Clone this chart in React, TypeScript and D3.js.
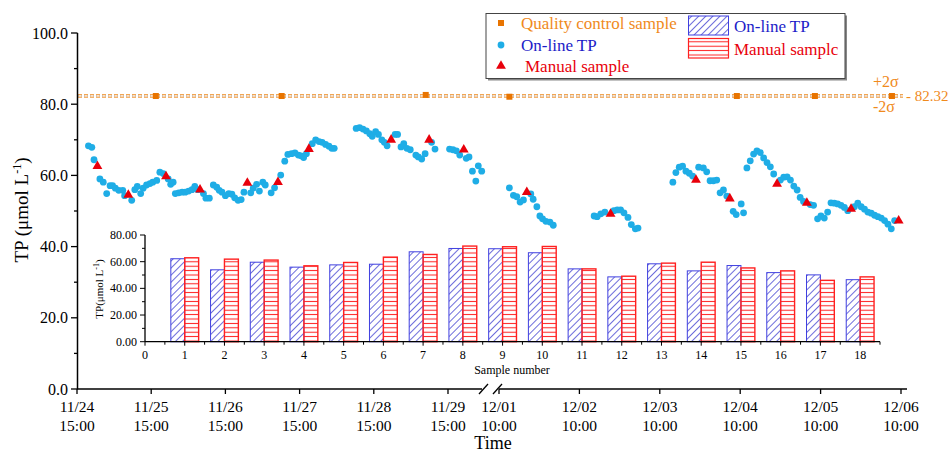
import React from "react";
import * as d3 from "d3";

// ---------- DATA ----------
// time in hours since 11/24 15:00 (axis break between 11/30 and 12/01 10:00)
const onlineHours = [3.7,4.8,5.5,7.4,8.5,9.6,10.7,11.5,12.4,13.5,14.8,15.4,17.7,18.7,19.5,20.6,21.4,22.5,23.6,24.5,25.8,26.8,27.9,29.5,30.3,31.1,31.8,32.9,34.0,35.0,36.1,37.2,38.1,39.1,40.9,41.7,42.8,44.1,45.2,46.0,46.9,48.0,49.1,50.1,51.0,52.1,53.1,54.0,56.2,57.0,58.1,59.0,60.1,60.9,62.8,63.9,65.9,67.2,68.2,69.4,70.5,71.6,72.5,73.3,74.2,76.1,77.2,78.3,79.3,80.4,81.5,82.4,83.2,90.3,91.4,92.5,93.6,94.7,95.5,96.6,97.5,98.6,99.4,100.3,102.9,103.7,104.8,105.7,106.7,107.8,109.6,110.4,111.5,112.6,114.7,115.8,120.5,121.6,122.7,123.8,125.9,126.8,127.9,129.0,129.8,130.9,166.1,167.3,168.3,169.3,170.3,172.5,173.2,174.3,175.2,176.0,177.0,178.2,179.2,191.4,192.3,193.4,194.6,197.3,198.3,199.3,200.3,201.5,202.5,203.7,204.5,214.9,215.8,216.8,217.8,218.8,219.8,220.8,222.6,224.0,225.0,226.0,227.0,228.0,229.0,230.0,231.0,232.9,233.8,235.3,236.0,237.0,238.0,239.0,240.0,241.0,242.0,243.0,244.0,245.0,247.0,248.0,249.0,250.0,251.0,252.0,252.9,253.9,255.9,256.9,258.1,259.1,260.1,261.1,262.1,263.1,264.1,265.1,266.1,267.1,269.1,270.1,271.1,272.1,273.1,274.1,275.1,276.1,277.1,278.1,279.1,280.1,281.1];
const onlineTP = [68.3,67.9,64.4,59.0,58.1,54.9,57.1,57.1,56.4,55.8,55.8,54.3,53.0,56.0,56.9,54.9,56.4,57.3,57.7,58.1,58.6,60.9,60.5,59.0,57.5,58.1,54.9,55.1,55.3,55.3,55.6,56.0,56.9,56.0,54.9,53.6,53.6,57.3,56.7,55.8,55.3,54.3,54.9,54.7,53.7,53.0,53.2,55.3,55.1,56.4,57.5,55.6,58.1,57.3,55.1,56.5,60.1,64.0,65.9,66.1,66.3,65.7,65.5,65.0,66.1,68.9,70.0,69.5,69.3,68.7,68.2,67.6,67.6,73.2,73.4,73.0,72.5,71.7,71.0,72.3,71.5,70.0,69.3,68.3,71.5,71.5,68.0,68.9,67.6,67.2,65.7,65.2,64.6,66.1,69.3,67.4,67.4,67.2,66.9,65.7,64.8,65.2,61.2,58.4,62.7,61.2,56.5,54.4,54.0,52.5,53.1,54.8,53.3,51.2,48.6,47.8,47.1,46.9,46.0,48.6,48.4,49.2,49.7,50.1,50.3,50.3,49.5,48.2,46.2,45.0,45.2,58.1,60.8,62.3,62.6,61.2,60.6,59.8,62.3,62.1,61.0,58.5,58.5,58.7,55.1,55.9,54.2,49.9,49.0,52.0,49.5,62.1,64.1,66.0,66.9,66.4,64.9,63.6,62.4,60.4,58.7,59.5,59.6,58.7,57.0,55.9,53.8,52.7,51.8,51.6,47.8,48.6,48.0,49.7,52.3,52.2,52.0,51.6,51.0,50.1,51.2,52.2,51.2,50.5,49.7,49.4,48.8,48.4,48.0,47.3,46.3,45.0,47.3];

const manualHours = [6.6,16.6,28.8,39.8,55.1,65.0,75.0,101.6,113.9,125.1,171.3,196.3,221.8,231.9,246.0,254.9,268.1,282.3];
const manualTP = [62.6,54.5,59.7,56.0,57.9,58.1,67.4,70.0,70.0,67.2,55.3,49.2,58.7,53.5,57.6,52.3,50.6,47.3];

const qcHours = [25.5,66.2,112.8,166.1,234.0,257.3,280.3];
const qcTP = [82.3,82.3,82.6,82.1,82.3,82.3,82.3];
const qcMean = 82.32;

const sampleNumbers = [1,2,3,4,5,6,7,8,9,10,11,12,13,14,15,16,17,18];
const barOnline = [62.2,53.9,59.6,55.9,57.6,58.1,67.4,69.9,69.7,66.7,54.6,48.6,58.4,53.1,57.1,51.8,50.1,46.5];
const barManual = [62.9,61.9,61.2,56.9,59.4,63.4,65.4,71.7,71.2,71.4,54.6,49.1,58.9,59.6,55.3,53.1,46.0,48.6];

const xTickHours = [0,24,48,72,96,120,163,187,211,235,259,283];
const xTickDates = ["11/24","11/25","11/26","11/27","11/28","11/29","12/01","12/02","12/03","12/04","12/05","12/06"];
const xTickTimes = ["15:00","15:00","15:00","15:00","15:00","15:00","10:00","10:00","10:00","10:00","10:00","10:00"];
const yTicks = [0,20,40,60,80,100];
const yMinor = [10,30,50,70,90];
const insetYTicks = [0,20,40,60,80];
const insetYMinor = [10,30,50,70];
const insetXTicks = [0,1,2,3,4,5,6,7,8,9,10,11,12,13,14,15,16,17,18];

// ---------- STYLE ----------
const F = '"Liberation Serif", "Times New Roman", serif';
const ORANGE = "#f08a1c";
const DOT = "#1fade6";
const RED = "#e8000b";
const BLUE = "#1c1cc8";

export default function App() {
  const W = 949, H = 453;
  // main scales (broken x axis)
  const x = d3.scaleLinear().domain([0, 131, 163, 283]).range([77, 482, 499, 901]);
  const y = d3.scaleLinear().domain([0, 100]).range([389, 33]);
  // inset scales
  const xi = d3.scaleLinear().domain([0, 18.5]).range([145, 880]);
  const yi = d3.scaleLinear().domain([0, 80]).range([341.7, 235]);
  const bw = 0.35;

  const tri = d3.symbol().type(d3.symbolTriangle).size(42)();
  const axisY = y(0);

  return (
    <svg width={W} height={H} style={{ position: "absolute", left: 0, top: 0, background: "#fff" }} fontFamily={F}>
      <defs>
        <pattern id="hatchBlue" patternUnits="userSpaceOnUse" width={5} height={5} patternTransform="rotate(45)">
          <line x1={0} y1={0} x2={0} y2={5} stroke={BLUE} strokeWidth={1.3} />
        </pattern>
        <pattern id="hatchRed" patternUnits="userSpaceOnUse" width={6} height={4.4}>
          <line x1={0} y1={2.2} x2={6} y2={2.2} stroke="#ff1a1a" strokeWidth={1} />
        </pattern>
      </defs>

      {/* QC lines */}
      <line x1={78} x2={903} y1={y(qcMean) - 1.2} y2={y(qcMean) - 1.2} stroke={ORANGE} strokeWidth={1} strokeDasharray="4 2" />
      <line x1={78} x2={903} y1={y(qcMean) + 1.2} y2={y(qcMean) + 1.2} stroke={ORANGE} strokeWidth={1} strokeDasharray="4 2" />
      <line x1={78} x2={903} y1={y(qcMean)} y2={y(qcMean)} stroke="#999" strokeWidth={0.8} strokeDasharray="1 2" />
      {qcHours.map((h, i) => (
        <rect key={"qc" + i} x={x(h) - 3} y={y(qcTP[i]) - 3} width={6} height={6} fill="#e87400" />
      ))}
      <text x={873} y={87} fontSize={16} fill={ORANGE}>+2σ</text>
      <text x={873} y={112} fontSize={16} fill={ORANGE}>-2σ</text>
      <text x={906} y={101} fontSize={15} fill={ORANGE}>- 82.32</text>

      {/* inset bar chart */}
      {sampleNumbers.map((s, i) => (
        <g key={"bar" + i}>
          <rect x={xi(s - bw)} y={yi(barOnline[i])} width={xi(s) - xi(s - bw)} height={yi(0) - yi(barOnline[i])}
            fill="url(#hatchBlue)" stroke="#4040e0" strokeWidth={1} />
          <rect x={xi(s)} y={yi(barManual[i])} width={xi(s + bw) - xi(s)} height={yi(0) - yi(barManual[i])}
            fill="url(#hatchRed)" stroke="#ff2020" strokeWidth={1.4} />
        </g>
      ))}
      <line x1={xi(0)} x2={xi(0)} y1={yi(0)} y2={yi(80)} stroke="#000" strokeWidth={1.3} />
      <line x1={xi(0)} x2={xi(18.5)} y1={yi(0)} y2={yi(0)} stroke="#000" strokeWidth={1.3} />
      {insetYTicks.map((t) => (
        <g key={"iy" + t}>
          <line x1={xi(0) - 5} x2={xi(0)} y1={yi(t)} y2={yi(t)} stroke="#000" strokeWidth={1} />
          <text x={xi(0) - 8} y={yi(t) + 4} fontSize={12} textAnchor="end">{t.toFixed(2)}</text>
        </g>
      ))}
      {insetYMinor.map((t) => (
        <line key={"iym" + t} x1={xi(0) - 3} x2={xi(0)} y1={yi(t)} y2={yi(t)} stroke="#000" strokeWidth={1} />
      ))}
      {insetXTicks.map((t) => (
        <g key={"ix" + t}>
          <line x1={xi(t)} x2={xi(t)} y1={yi(0)} y2={yi(0) + 4} stroke="#000" strokeWidth={1} />
          <line x1={xi(t + 0.5)} x2={xi(t + 0.5)} y1={yi(0)} y2={yi(0) + 3} stroke="#000" strokeWidth={1} />
          <text x={xi(t)} y={yi(0) + 17} fontSize={12} textAnchor="middle">{t}</text>
        </g>
      ))}
      <text x={512} y={374} fontSize={12} textAnchor="middle">Sample number</text>
      <text transform={`translate(103,289) rotate(-90)`} fontSize={11} textAnchor="middle">
        TP(μmol L<tspan dy={-4} fontSize={8}>-1</tspan><tspan dy={4}>)</tspan>
      </text>

      {/* scatter */}
      {onlineHours.map((h, i) => (
        <circle key={"on" + i} cx={x(h)} cy={y(onlineTP[i])} r={3.4} fill={DOT} />
      ))}
      {manualHours.map((h, i) => (
        <path key={"man" + i} d={tri} transform={`translate(${x(h)},${y(manualTP[i])})`} fill={RED} />
      ))}

      {/* main axes */}
      <line x1={77.5} x2={77.5} y1={axisY} y2={y(100)} stroke="#000" strokeWidth={1.5} />
      {yTicks.map((t) => (
        <g key={"y" + t}>
          <line x1={71} x2={77.5} y1={y(t)} y2={y(t)} stroke="#000" strokeWidth={1.3} />
          <text x={68} y={y(t) + 5.5} fontSize={16} textAnchor="end">{t.toFixed(1)}</text>
        </g>
      ))}
      {yMinor.map((t) => (
        <line key={"ym" + t} x1={74} x2={77.5} y1={y(t)} y2={y(t)} stroke="#000" strokeWidth={1.3} />
      ))}
      <line x1={77} x2={x(131)} y1={axisY} y2={axisY} stroke="#000" strokeWidth={1.5} />
      <line x1={x(163)} x2={907} y1={axisY} y2={axisY} stroke="#000" strokeWidth={1.5} />
      <line x1={x(131) - 3} x2={x(131) + 6} y1={axisY + 5} y2={axisY - 5} stroke="#000" strokeWidth={1.3} />
      <line x1={x(163) - 6} x2={x(163) + 3} y1={axisY + 5} y2={axisY - 5} stroke="#000" strokeWidth={1.3} />
      {xTickHours.map((h, i) => (
        <g key={"x" + i}>
          <line x1={x(h)} x2={x(h)} y1={axisY} y2={axisY + 5} stroke="#000" strokeWidth={1.3} />
          <text x={x(h)} y={412} fontSize={15.5} textAnchor="middle">{xTickDates[i]}</text>
          <text x={x(h)} y={431} fontSize={15.5} textAnchor="middle">{xTickTimes[i]}</text>
        </g>
      ))}
      <text x={493} y={448.5} fontSize={18} textAnchor="middle">Time</text>
      <text transform="translate(28,210) rotate(-90)" fontSize={19} textAnchor="middle">
        TP (μmol L<tspan dy={-7} fontSize={12}>-1</tspan><tspan dy={7}>)</tspan>
      </text>

      {/* legend */}
      <rect x={488} y={15.5} width={359} height={65} fill="#888" />
      <rect x={486} y={13.5} width={359} height={65} fill="#fff" stroke="#444" strokeWidth={1} />
      <rect x={498} y={20} width={6} height={6} fill="#e87400" />
      <text x={521} y={28.5} fontSize={17} fill={ORANGE}>Quality control sample</text>
      <circle cx={501} cy={45} r={3.4} fill={DOT} />
      <text x={521} y={50.5} fontSize={17} fill={BLUE}>On-line TP</text>
      <path d={tri} transform="translate(501,66)" fill={RED} />
      <text x={525} y={71.5} fontSize={17} fill={RED}>Manual sample</text>
      <rect x={688.5} y={16} width={40} height={19} fill="url(#hatchBlue)" stroke="#4040e0" strokeWidth={1} />
      <text x={734} y={32} fontSize={17} fill={BLUE}>On-line TP</text>
      <rect x={688.5} y={38.5} width={40} height={19.5} fill="url(#hatchRed)" stroke="#ff2020" strokeWidth={1.2} />
      <text x={734} y={55} fontSize={17} fill={RED}>Manual samplc</text>
    </svg>
  );
}
